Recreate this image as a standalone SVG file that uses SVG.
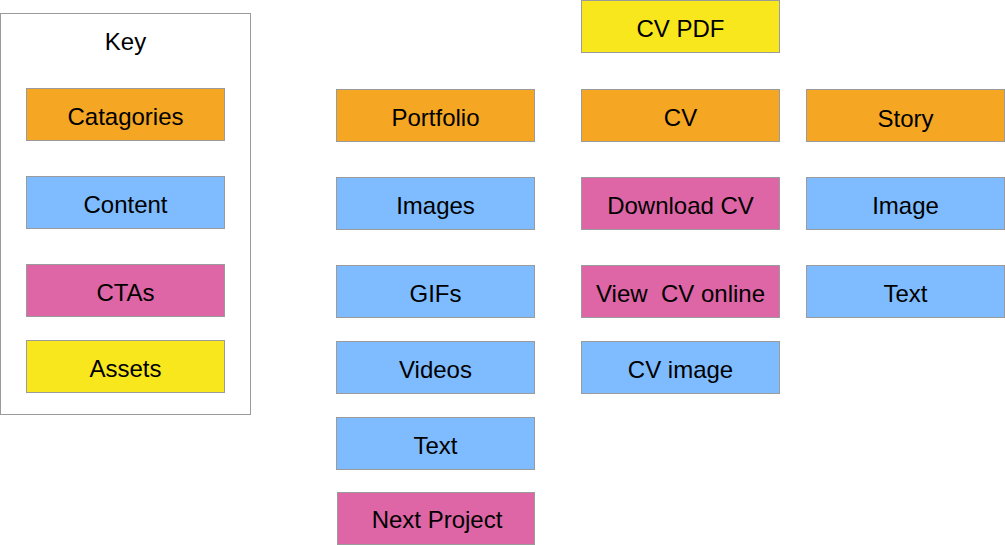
<svg xmlns="http://www.w3.org/2000/svg" width="1005" height="545" viewBox="0 0 1005 545">
  <style>
    .box { stroke: #9b9b9b; stroke-width: 1; }
    .cat { fill: #f5a623; }
    .con { fill: #7ebcff; }
    .cta { fill: #de66a6; }
    .ast { fill: #f8e71c; }
    text { font-family: "Liberation Sans", Arial, sans-serif; font-size: 24px; fill: #000; text-anchor: middle; dominant-baseline: central; }
  </style>
  <rect width="1005" height="545" fill="#ffffff"/>

  <!-- legend -->
  <g id="key">
    <rect x="0.5" y="13.5" width="250" height="401" fill="#ffffff" stroke="#9b9b9b"/>
    <text x="125.5" y="41">Key</text>
  </g>
  <g id="key-categories"><rect class="box cat" x="26.5" y="88.5" width="198" height="52"/><text x="125.5" y="116">Catagories</text></g>
  <g id="key-content"><rect class="box con" x="26.5" y="176.5" width="198" height="52"/><text x="125.5" y="204">Content</text></g>
  <g id="key-ctas"><rect class="box cta" x="26.5" y="264.5" width="198" height="52"/><text x="125.5" y="292">CTAs</text></g>
  <g id="key-assets"><rect class="box ast" x="26.5" y="340.5" width="198" height="52"/><text x="125.5" y="368">Assets</text></g>

  <!-- portfolio column -->
  <g id="portfolio"><rect class="box cat" x="336.5" y="89.5" width="198" height="52"/><text x="435.5" y="117">Portfolio</text></g>
  <g id="images"><rect class="box con" x="336.5" y="177.5" width="198" height="52"/><text x="435.5" y="205">Images</text></g>
  <g id="gifs"><rect class="box con" x="336.5" y="265.5" width="198" height="52"/><text x="435.5" y="293">GIFs</text></g>
  <g id="videos"><rect class="box con" x="336.5" y="341.5" width="198" height="52"/><text x="435.5" y="369">Videos</text></g>
  <g id="text-portfolio"><rect class="box con" x="336.5" y="417.5" width="198" height="52"/><text x="435.5" y="445">Text</text></g>
  <g id="next-project"><rect class="box cta" x="337.5" y="492.5" width="197" height="52"/><text x="437" y="519">Next Project</text></g>

  <!-- CV column -->
  <g id="cv-pdf"><rect class="box ast" x="581.5" y="0.5" width="198" height="52"/><text x="680.5" y="28">CV PDF</text></g>
  <g id="cv"><rect class="box cat" x="581.5" y="89.5" width="198" height="52"/><text x="680.5" y="117">CV</text></g>
  <g id="download-cv"><rect class="box cta" x="581.5" y="177.5" width="198" height="52"/><text x="680.5" y="205">Download CV</text></g>
  <g id="view-cv"><rect class="box cta" x="581.5" y="265.5" width="198" height="52"/><text x="680.5" y="293" xml:space="preserve">View  CV online</text></g>
  <g id="cv-image"><rect class="box con" x="581.5" y="341.5" width="198" height="52"/><text x="680.5" y="369">CV image</text></g>

  <!-- story column -->
  <g id="story"><rect class="box cat" x="806.5" y="89.5" width="198" height="52"/><text x="905.5" y="118">Story</text></g>
  <g id="image"><rect class="box con" x="806.5" y="177.5" width="198" height="52"/><text x="905.5" y="205">Image</text></g>
  <g id="text-story"><rect class="box con" x="806.5" y="265.5" width="198" height="52"/><text x="905.5" y="293">Text</text></g>

  <g id="connectors"></g>
</svg>
